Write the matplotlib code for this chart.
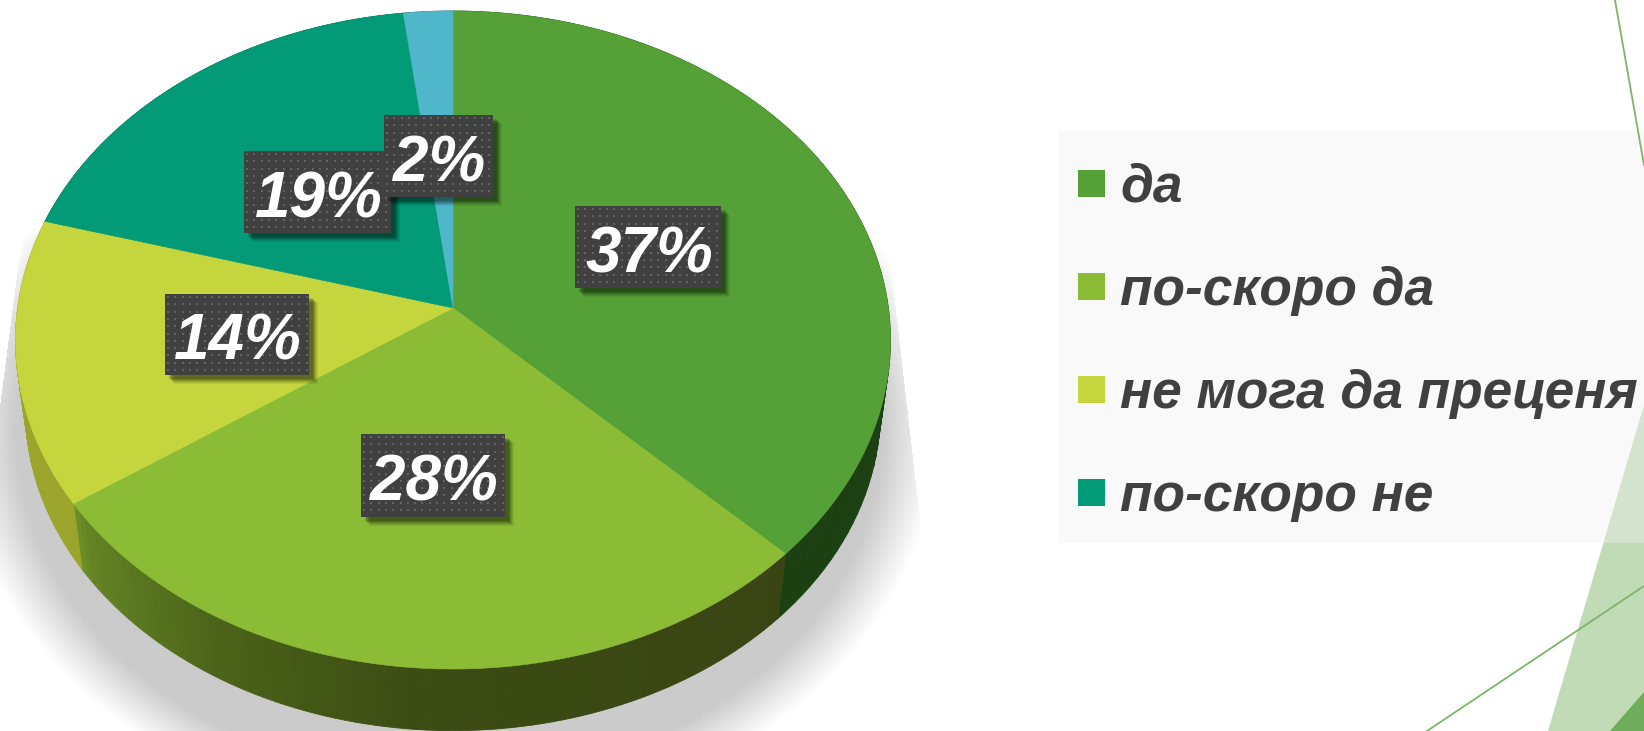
import numpy as np
import matplotlib
matplotlib.use("Agg")
import matplotlib.pyplot as plt
from matplotlib.patches import Rectangle, Polygon

# ---- data ----
categories = ["да", "по-скоро да", "не мога да преценя", "по-скоро не", "не"]
values = [37.4, 28.0, 14.0, 18.6, 2.0]
top_colors = ["#55a138", "#8cbb35", "#c5d53d", "#039a77", "#4fb7c9"]
side_colors = ["#1d4012", None, "#9ca52b", "#02614b", "#2e7380"]
legend_count = 4

# ---- layout (pixels of the 1644x731 canvas) ----
W, H = 1644, 731
CX, CY = 453, 308
A, B, K = 435.4, 325.9, 0.0973
RIM_SCALE, RIM_SHIFT = 0.977, 71
label_boxes = [(575, 206, 146, 82), (361, 434, 144, 83), (165, 294, 144, 81),
               (244, 151, 147, 82), (384, 115, 109, 82)]
label_order = [0, 1, 2, 3, 4]
legend_baseline = [202, 305, 408, 511]

fig = plt.figure(figsize=(W / 100, H / 100), dpi=100, facecolor="white")
ax = fig.add_axes([0, 0, 1, 1])
ax.set_xlim(0, W)
ax.set_ylim(H, 0)
ax.axis("off")
FONT = "Liberation Sans"


def rim(theta, bottom=False):
    """Point of the tilted disc at clockwise angle theta (radians from 12 o'clock)."""
    w = 1 + K * np.cos(theta)
    x = A * np.sin(theta) / w
    y = -B * np.cos(theta) / w
    if bottom:
        return CX + RIM_SCALE * x, CY + 0.974 * y + RIM_SHIFT
    return CX + x, CY + y


# ---- decorative background ----
ax.add_patch(Polygon([(1548, 731), (1644, 405), (1644, 731)], fc="#c0dbb6", ec="none", zorder=1))
ax.add_patch(Polygon([(1610, 731), (1644, 692), (1644, 731)], fc="#70ad5a", ec="none", zorder=1.2))

# ---- legend panel ----
ax.add_patch(Rectangle((1059, 131), W - 1059, 412, fc="#f0f0f0", ec="none", alpha=0.4, zorder=1.5))
ax.plot([1427, 1644], [731, 586], color="#7db56a", lw=1.3, zorder=1.6)
ax.plot([1615, 1644], [0, 165], color="#7db56a", lw=1.3, zorder=1.6)
for name, col, y in zip(categories[:legend_count], top_colors, legend_baseline):
    ax.add_patch(Rectangle((1078, y - 32), 27, 27, fc=col, ec="none", zorder=3))
    ax.text(1120, y, name, fontsize=38.3, fontweight="bold", fontstyle="italic", family=FONT,
            color="#404040", va="baseline", ha="left", zorder=3)

# ---- soft shadow under the disc ----
yy, xx = np.mgrid[0:H, 0:950]
r = np.sqrt(((xx - 448) / 465.0) ** 2 + ((yy - 430) / 375.0) ** 2)
alpha = np.clip((1.05 - r) / 0.12, 0, 1)
mask = (xx < 889 + (yy - 262) * 0.115) & (xx > 22 - (yy - 233) * 0.13) & (yy > 233)
alpha = alpha * mask
rgba = np.zeros(alpha.shape + (4,))
rgba[..., :3] = 0xCB / 255
rgba[..., 3] = alpha
ax.imshow(rgba, extent=(0, 950, H, 0), aspect="auto", zorder=1.7, interpolation="bilinear")
ax.set_xlim(0, W)
ax.set_ylim(H, 0)

# ---- the pie, built from the values ----
fr = np.cumsum([0] + values) / sum(values)
angles = fr * 2 * np.pi

# side panels
grad_pos = [0.0, 0.03, 0.25, 0.5, 1.0]
grad_rgb = np.array([[0x6e, 0x90, 0x28], [0x64, 0x84, 0x24], [0x4c, 0x64, 0x19], [0x3c, 0x4c, 0x13], [0x39, 0x44, 0x13]]) / 255
for i, v in enumerate(values):
    t0, t1 = angles[i], angles[i + 1]
    ts = np.linspace(t0, t1, 80)
    for a, b in zip(ts[:-1], ts[1:]):
        if side_colors[i] is None:
            f = (t1 - (a + b) / 2) / (t1 - t0)
            col = [np.interp(f, grad_pos, grad_rgb[:, c]) for c in range(3)]
        else:
            col = side_colors[i]
        pts = [rim(a), rim(b), rim(b, True), rim(a, True)]
        ax.add_patch(Polygon(pts, fc=col, ec=col, lw=0.6, zorder=2))

# top faces
for i, v in enumerate(values):
    ts = np.linspace(angles[i], angles[i + 1], 200)
    xs, ys = rim(ts)
    ax.fill(np.r_[CX, xs], np.r_[CY, ys], fc=top_colors[i], ec=top_colors[i], lw=0.4, zorder=2.5)

# ---- percent labels ----
dots_step = 7.3
for n, idx in enumerate(label_order):
    x, y, w, h = label_boxes[idx]
    z = 4 + n
    for off, al in zip([9, 8, 7, 6, 5, 4], [0.06, 0.08, 0.1, 0.12, 0.14, 0.14]):
        ax.add_patch(Rectangle((x + off, y + off), w, h, fc="black", ec="none", alpha=al, zorder=z))
    ax.add_patch(Rectangle((x, y), w, h, fc="#404040", ec="none", zorder=z + 0.1))
    gx, gy = np.meshgrid(np.arange(x + 3, x + w - 1, dots_step), np.arange(y + 3, y + h - 1, dots_step))
    ax.plot(gx.ravel(), gy.ravel(), ls="none", marker="s", ms=1.7, mew=0, color="#636363", zorder=z + 0.2)
    ax.text(x + w / 2 + 1, y + h * 0.805, f"{round(values[idx])}%", fontsize=46, fontweight="bold",
            fontstyle="italic", family=FONT, color="white", ha="center", va="baseline", zorder=z + 0.3)

fig.savefig("out.png", dpi=100, facecolor="white")
